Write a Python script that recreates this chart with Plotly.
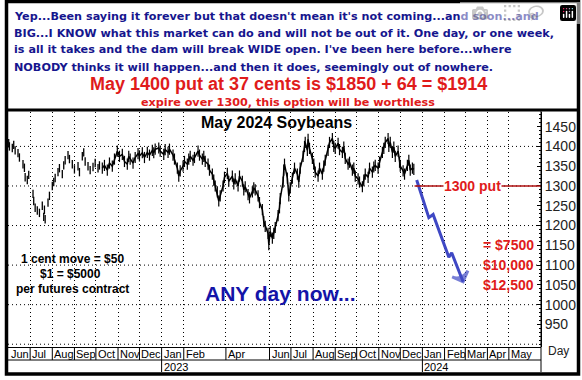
import plotly.graph_objects as go

W, H = 582, 380

# ---------------- data ----------------
head_lines = [
    "Yep...Been saying it forever but that doesn't mean it's not coming...and soon...and",
    "BIG...I KNOW what this market can do and will not be out of it. One day, or one week,",
    "is all it takes and the dam will break WIDE open. I've been here before...where",
    "NOBODY thinks it will happen...and then it does, seemingly out of nowhere.",
]
red_head = "May 1400 put at 37 cents is $1850 + 64 = $1914"
red_sub = "expire over 1300, this option will be worthless"
chart_title = "May 2024 Soybeans"

sparse_dates = ["2022-06-01", "2022-06-02", "2022-06-06", "2022-06-08", "2022-06-10", "2022-06-14",
                "2022-06-16", "2022-06-21", "2022-06-23", "2022-06-24", "2022-06-27", "2022-06-29",
                "2022-07-05", "2022-07-06", "2022-07-08", "2022-07-11", "2022-07-14", "2022-07-18",
                "2022-07-20", "2022-07-21", "2022-07-22", "2022-07-26", "2022-07-28", "2022-08-01",
                "2022-08-03", "2022-08-05", "2022-08-09", "2022-08-11", "2022-08-15", "2022-08-17",
                "2022-08-19", "2022-08-23", "2022-08-25", "2022-08-29", "2022-09-01", "2022-09-06",
                "2022-09-08", "2022-09-12", "2022-09-14", "2022-09-16", "2022-09-20", "2022-09-23",
                "2022-09-27", "2022-09-30", "2022-10-04", "2022-10-06"]
sparse_values = [1408, 1400, 1396, 1404, 1390, 1383,
                 1372, 1355, 1346, 1322, 1315, 1328,
                 1280, 1262, 1245, 1238, 1232, 1250,
                 1222, 1240, 1216, 1258, 1275, 1300,
                 1310, 1320, 1335, 1345, 1330, 1352,
                 1365, 1378, 1368, 1355, 1342, 1350,
                 1335, 1375, 1385, 1362, 1350, 1340,
                 1348, 1358, 1345, 1352]

price_dates = [
    "2022-10-10", "2022-10-13", "2022-10-17", "2022-10-20", "2022-10-24", "2022-10-27", "2022-10-31",
    "2022-11-03", "2022-11-07", "2022-11-10", "2022-11-14", "2022-11-16", "2022-11-18", "2022-11-22",
    "2022-11-25", "2022-11-29", "2022-12-01", "2022-12-05", "2022-12-08", "2022-12-12", "2022-12-15",
    "2022-12-19", "2022-12-21", "2022-12-23", "2022-12-28", "2022-12-30",
    "2023-01-04", "2023-01-06", "2023-01-10", "2023-01-12", "2023-01-17", "2023-01-19", "2023-01-23",
    "2023-01-25", "2023-01-27", "2023-01-31", "2023-02-02", "2023-02-06", "2023-02-08", "2023-02-10",
    "2023-02-14", "2023-02-16", "2023-02-21", "2023-02-23", "2023-02-27", "2023-03-01", "2023-03-03",
    "2023-03-07", "2023-03-09", "2023-03-13", "2023-03-15", "2023-03-17", "2023-03-20", "2023-03-22",
    "2023-03-24", "2023-03-28", "2023-03-30", "2023-04-03", "2023-04-05", "2023-04-10", "2023-04-12",
    "2023-04-14", "2023-04-18", "2023-04-20", "2023-04-24", "2023-04-26", "2023-04-28", "2023-05-02",
    "2023-05-04", "2023-05-08", "2023-05-10", "2023-05-12", "2023-05-16", "2023-05-18", "2023-05-22",
    "2023-05-24", "2023-05-26", "2023-05-30", "2023-05-31", "2023-06-02", "2023-06-05", "2023-06-07",
    "2023-06-09", "2023-06-13", "2023-06-15", "2023-06-16", "2023-06-20", "2023-06-21", "2023-06-22",
    "2023-06-26", "2023-06-28", "2023-06-30", "2023-07-03", "2023-07-06", "2023-07-10", "2023-07-12",
    "2023-07-14", "2023-07-18", "2023-07-20", "2023-07-21", "2023-07-24", "2023-07-25", "2023-07-27",
    "2023-07-31", "2023-08-02", "2023-08-04", "2023-08-08", "2023-08-10", "2023-08-14", "2023-08-16",
    "2023-08-18", "2023-08-22", "2023-08-24", "2023-08-28", "2023-08-30", "2023-09-01", "2023-09-05",
    "2023-09-07", "2023-09-11", "2023-09-13", "2023-09-15", "2023-09-19", "2023-09-21", "2023-09-25",
    "2023-09-27", "2023-09-29", "2023-10-03", "2023-10-05", "2023-10-09", "2023-10-11", "2023-10-13",
    "2023-10-17", "2023-10-19", "2023-10-23", "2023-10-25", "2023-10-27", "2023-10-31", "2023-11-02",
    "2023-11-06", "2023-11-08", "2023-11-10", "2023-11-14", "2023-11-15", "2023-11-17", "2023-11-20",
    "2023-11-22", "2023-11-24", "2023-11-28", "2023-11-30", "2023-12-01", "2023-12-05", "2023-12-07",
    "2023-12-11", "2023-12-13", "2023-12-15", "2023-12-18", "2023-12-20"]
price_values = [
    1345, 1352, 1340, 1358, 1350, 1368, 1388,
    1375, 1380, 1362, 1355, 1375, 1368, 1358,
    1372, 1382, 1376, 1384, 1372, 1385, 1378,
    1390, 1384, 1393, 1396, 1388,
    1380, 1392, 1385, 1393, 1378, 1368, 1345,
    1325, 1338, 1350, 1362, 1355, 1368, 1375,
    1365, 1372, 1388, 1378, 1368, 1375, 1362,
    1355, 1340, 1330, 1315, 1300, 1285, 1262,
    1275, 1300, 1322, 1332, 1312, 1325, 1305,
    1318, 1300, 1325, 1312, 1290, 1298, 1278,
    1270, 1285, 1295, 1290, 1275, 1258, 1240,
    1210, 1198, 1180, 1152, 1185, 1168, 1180,
    1195, 1225, 1245, 1268, 1310, 1340, 1355,
    1320, 1275, 1295, 1320, 1345, 1330, 1310,
    1345, 1375, 1400, 1410, 1390, 1418, 1395,
    1370, 1355, 1335, 1325, 1345, 1330, 1350,
    1365, 1390, 1410, 1420, 1400, 1395, 1408,
    1392, 1385, 1398, 1370, 1355, 1360, 1340,
    1345, 1325, 1318, 1310, 1298, 1315, 1330,
    1322, 1345, 1335, 1348, 1352, 1345, 1360,
    1385, 1395, 1410, 1420, 1400, 1410, 1385,
    1398, 1375, 1388, 1360, 1350, 1338, 1330,
    1352, 1365, 1340, 1345, 1342]

proj_dates = ["2023-12-24", "2024-01-10", "2024-01-16", "2024-02-07", "2024-02-11", "2024-02-27"]
proj_values = [1315, 1220, 1228, 1120, 1131, 1058]

put_start = "2023-12-21"
put_level = 1300
put_label = "1300 put"
loss_levels = [1150, 1100, 1050]
loss_labels = ["= $7500", "$10,000", "$12,500"]

note_lines = ["1 cent move = $50", "$1 = $5000", "per futures contract"]
any_day = "ANY day now..."

grid_levels = [900, 1000, 1100, 1200, 1300, 1400]
y_ticks = [950, 1000, 1050, 1100, 1150, 1200, 1250, 1300, 1350, 1400, 1450]

month_starts = ["2022-06-01", "2022-07-01", "2022-08-01", "2022-09-01", "2022-10-01", "2022-11-01",
                "2022-12-01", "2023-01-01", "2023-02-01", "2023-04-01", "2023-06-01", "2023-07-01",
                "2023-08-01", "2023-09-01", "2023-10-01", "2023-11-01", "2023-12-01", "2024-01-01",
                "2024-02-01", "2024-03-01", "2024-04-01", "2024-05-01"]
month_labels = ["Jun", "Jul", "Aug", "Sep", "Oct", "Nov", "Dec", "Jan", "Feb", "Apr", "Jun", "Jul",
                "Aug", "Sep", "Oct", "Nov", "Dec", "Jan", "Feb", "Mar", "Apr", "May"]
year_starts = ["2023-01-01", "2024-01-01"]
year_labels = ["2023", "2024"]

x_range = ["2022-05-31", "2024-06-15"]
y_range = [893, 1487]

# ---------------- helpers (pixel -> paper) ----------------
def px(x):
    return x / W


def py(y):
    return 1 - y / H


PLOT_L, PLOT_R, PLOT_T, PLOT_B = 8, 541, 112, 347
MONTH_B, YEAR_B = 360, 372

ARIAL = "Liberation Sans, Arial, sans-serif"
VERD = "DejaVu Sans, Verdana, sans-serif"
NAVY = "#16168e"
RED = "#e01b1b"
ARROW = "#3f48c4"

fig = go.Figure()

fig.add_trace(go.Scatter(
    x=sparse_dates, y=sparse_values, mode="markers",
    marker=dict(symbol="line-ns", size=6, line=dict(color="black", width=1.3)),
    hoverinfo="skip", showlegend=False))

fig.add_trace(go.Scatter(
    x=price_dates, y=price_values, mode="lines+markers",
    line=dict(color="black", width=1.5),
    marker=dict(symbol="line-ns", size=8, line=dict(color="black", width=1.2)),
    hoverinfo="skip", showlegend=False))

fig.add_trace(go.Scatter(
    x=proj_dates, y=proj_values, mode="lines+markers",
    line=dict(color=ARROW, width=3),
    marker=dict(symbol="arrow-wide-open", angleref="previous",
                size=[0] * (len(proj_values) - 1) + [12], color=ARROW,
                line=dict(color=ARROW, width=3)),
    hoverinfo="skip", showlegend=False))

fig.update_layout(
    width=W, height=H, margin=dict(l=0, r=0, t=0, b=0),
    paper_bgcolor="white", plot_bgcolor="white", showlegend=False,
    xaxis=dict(type="date", range=x_range, domain=[px(PLOT_L), px(PLOT_R)],
               tickvals=month_starts, showticklabels=False, ticks="",
               showgrid=True, gridcolor="black", gridwidth=1, griddash="1px,3px",
               zeroline=False, showline=False, fixedrange=True),
    yaxis=dict(range=y_range, domain=[py(PLOT_B), py(PLOT_T)], side="right",
               tickvals=y_ticks, ticks="inside", ticklen=4, tickcolor="black",
               showline=True, linecolor="black", linewidth=1, showgrid=False,
               zeroline=False, tickfont=dict(family=ARIAL, size=14, color="#222"),
               minor=dict(dtick=10, ticks="inside", ticklen=2, tickcolor="black"),
               fixedrange=True),
)

shapes = []
for g in grid_levels:
    shapes.append(dict(type="line", xref="paper", yref="y", x0=px(PLOT_L), x1=px(PLOT_R),
                       y0=g, y1=g, line=dict(color="black", width=1, dash="1px,3px"), layer="below"))
shapes.append(dict(type="line", xref="x", yref="y", x0=put_start, x1=x_range[1],
                   y0=put_level, y1=put_level, line=dict(color="#b01010", width=1.6)))
shapes.append(dict(type="line", xref="paper", yref="paper", x0=px(PLOT_R), x1=px(PLOT_R),
                   y0=py(YEAR_B), y1=py(110), line=dict(color="black", width=1)))
for yy in (PLOT_B + 0.5, MONTH_B):
    shapes.append(dict(type="line", xref="paper", yref="paper", x0=px(PLOT_L), x1=px(PLOT_R),
                       y0=py(yy), y1=py(yy), line=dict(color="black", width=1)))
for d in month_starts[1:]:
    shapes.append(dict(type="line", xref="x", yref="paper", x0=d, x1=d,
                       y0=py(MONTH_B), y1=py(PLOT_B), line=dict(color="black", width=1)))
for d in year_starts:
    shapes.append(dict(type="line", xref="x", yref="paper", x0=d, x1=d,
                       y0=py(YEAR_B), y1=py(MONTH_B), line=dict(color="black", width=1)))
shapes.append(dict(type="line", xref="paper", yref="paper", x0=px(5), x1=px(579),
                   y0=py(110), y1=py(110), line=dict(color="black", width=3)))
shapes.append(dict(type="rect", xref="paper", yref="paper", x0=px(6.5), x1=px(578.5),
                   y0=py(374), y1=py(1.5), line=dict(color="black", width=3.5)))
fig.update_layout(shapes=shapes)

ann = []
for i, t in enumerate(head_lines):
    ann.append(dict(text=t, x=px(12), y=py(16 + 17 * i), xref="paper", yref="paper",
                    xanchor="left", yanchor="middle", showarrow=False,
                    font=dict(family=VERD, size=11.2, color=NAVY, weight="bold")))
ann.append(dict(text=red_head, x=px(288), y=py(84), xref="paper", yref="paper",
                xanchor="center", yanchor="middle", showarrow=False,
                font=dict(family=ARIAL, size=18, color=RED, weight="bold")))
ann.append(dict(text=red_sub, x=px(288), y=py(102.5), xref="paper", yref="paper",
                xanchor="center", yanchor="middle", showarrow=False,
                font=dict(family=VERD, size=11.2, color=RED, weight="bold")))
ann.append(dict(text=chart_title, x=px(276), y=py(122), xref="paper", yref="paper",
                xanchor="center", yanchor="middle", showarrow=False,
                font=dict(family=ARIAL, size=16, color="black", weight="bold")))
for t, xc, yc in zip(note_lines, [72, 70, 72], [259, 274, 289]):
    ann.append(dict(text=t, x=px(xc), y=py(yc), xref="paper", yref="paper",
                    xanchor="center", yanchor="middle", showarrow=False,
                    font=dict(family=ARIAL, size=12, color="black", weight="bold")))
ann.append(dict(text=any_day, x=px(280), y=py(293), xref="paper", yref="paper",
                xanchor="center", yanchor="middle", showarrow=False,
                font=dict(family=ARIAL, size=21, color="#1414a8", weight="bold")))
ann.append(dict(text=put_label, x=px(472), y=put_level, xref="paper", yref="y",
                xanchor="center", yanchor="middle", showarrow=False, bgcolor="white",
                borderpad=0, font=dict(family=ARIAL, size=14, color=RED, weight="bold")))
for lv, t in zip(loss_levels, loss_labels):
    ann.append(dict(text=t, x=px(536), y=lv, xref="paper", yref="y",
                    xanchor="right", yanchor="middle", showarrow=False,
                    font=dict(family=ARIAL, size=14, color=RED, weight="bold")))
for d, t in zip(month_starts, month_labels):
    ann.append(dict(text=t, x=d, y=py((PLOT_B + MONTH_B) / 2 + 0.5), xref="x", yref="paper",
                    xanchor="left", yanchor="middle", showarrow=False,
                    font=dict(family=ARIAL, size=11, color="black")))
for d, t in zip(year_starts, year_labels):
    ann.append(dict(text=t, x=d, y=py((MONTH_B + YEAR_B) / 2 + 0.5), xref="x", yref="paper",
                    xanchor="left", yanchor="middle", showarrow=False,
                    font=dict(family=ARIAL, size=11, color="black")))
ann.append(dict(text="Day", x=px(546), y=py(351), xref="paper", yref="paper",
                xanchor="left", yanchor="middle", showarrow=False,
                font=dict(family=ARIAL, size=12, color="#222")))
fig.update_layout(annotations=ann)

fig.write_html("out.html", post_script="document.body.style.margin='0';")
